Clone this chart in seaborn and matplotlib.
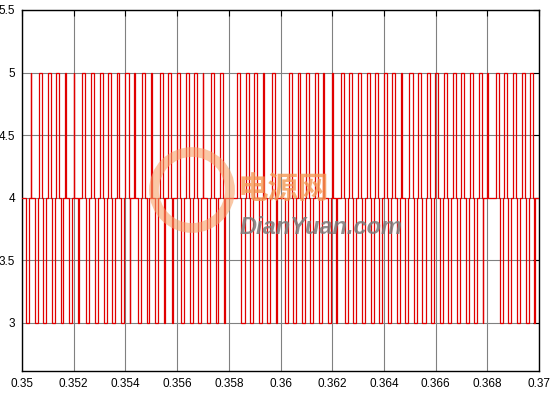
import numpy as np
import pandas as pd
import matplotlib
matplotlib.use("Agg")
import matplotlib.pyplot as plt
import seaborn as sns
from matplotlib.patches import Ellipse

# rising edges of the 4 -> 5 pulses (s) and their widths (us)
up_on = [0.35033, 0.35066, 0.35100, 0.35133, 0.35166, 0.35200, 0.35233, 0.35266,
         0.35300, 0.35333, 0.35366, 0.35400, 0.35433, 0.35466, 0.35499, 0.35533,
         0.35566, 0.35599, 0.35633, 0.35666, 0.35699, 0.35733, 0.35766, 0.35833,
         0.35866, 0.35899, 0.35933, 0.35966, 0.36033, 0.36066, 0.36099, 0.36133,
         0.36166, 0.36199, 0.36233, 0.36266, 0.36299, 0.36333, 0.36366, 0.36399,
         0.36433, 0.36466, 0.36499, 0.36533, 0.36566, 0.36599, 0.36633, 0.36666,
         0.36699, 0.36733, 0.36766, 0.36799, 0.36833, 0.36866, 0.36899, 0.36933,
         0.36966]
up_width = [25, 110, 120, 110, 30, 25, 115, 125, 120, 115, 110, 120, 30, 110, 30,
            120, 110, 120, 115, 120, 30, 110, 120, 120, 110, 120, 30, 120, 120, 110,
            120, 115, 30, 30, 120, 110, 115, 120, 110, 120, 115, 30, 120, 110, 120,
            115, 110, 120, 115, 110, 120, 25, 120, 110, 120, 115, 110]

# falling edges of the 4 -> 3 pulses (s) and their widths (us)
low_on = [0.35016, 0.35049, 0.35083, 0.35116, 0.35149, 0.35183, 0.35216, 0.35249,
          0.35283, 0.35316, 0.35349, 0.35383, 0.35416, 0.35449, 0.35482, 0.35516,
          0.35549, 0.35582, 0.35616, 0.35649, 0.35682, 0.35716, 0.35749, 0.35782,
          0.35849, 0.35882, 0.35916, 0.35949, 0.35982, 0.36016, 0.36049, 0.36082,
          0.36116, 0.36149, 0.36182, 0.36216, 0.36249, 0.36282, 0.36316, 0.36349,
          0.36382, 0.36416, 0.36449, 0.36482, 0.36516, 0.36549, 0.36582, 0.36616,
          0.36649, 0.36682, 0.36716, 0.36749, 0.36782, 0.36849, 0.36882, 0.36916,
          0.36949, 0.36982]
low_width = [110, 120, 115, 120, 110, 120, 30, 120, 110, 120, 115, 110, 30, 120,
             110, 120, 30, 30, 120, 110, 120, 115, 110, 30, 120, 110, 120, 115, 30,
             120, 110, 120, 115, 110, 120, 30, 110, 120, 115, 110, 120, 110, 120,
             115, 110, 120, 110, 120, 115, 110, 120, 110, 30, 120, 110, 120, 115, 30]

base_level = 4
t_start, t_end = 0.35, 0.37
x_ticks = [0.35, 0.352, 0.354, 0.356, 0.358, 0.36, 0.362, 0.364, 0.366, 0.368, 0.37]
x_labels = ["0.35", "0.352", "0.354", "0.356", "0.358", "0.36", "0.362", "0.364",
            "0.366", "0.368", "0.37"]
y_ticks = [3, 3.5, 4, 4.5, 5, 5.5]
y_labels = ["3", "3.5", "4", "4.5", "5", "5.5"]


def build_signal():
    events = [(t_start, base_level)]
    for t, w in zip(up_on, up_width):
        events.append((t, 5))
        events.append((t + w * 1e-6, base_level))
    for t, w in zip(low_on, low_width):
        events.append((t, 3))
        events.append((t + w * 1e-6, base_level))
    events.append((t_end, base_level))
    events.sort()
    return pd.DataFrame(events, columns=["t", "v"])


def main():
    sns.set_style("white")
    plt.rcParams["font.family"] = ["Liberation Sans", "DejaVu Sans"]

    df = build_signal()
    fig = plt.figure(figsize=(5.53, 3.94), dpi=100)
    ax = fig.add_axes([22 / 553, 1 - 371 / 394, 517 / 553, 361 / 394])

    sns.lineplot(data=df, x="t", y="v", drawstyle="steps-post", color="#e00000",
                 linewidth=0.9, estimator=None, sort=False, ax=ax, zorder=3)

    # watermark (site logo)
    fig.patches.append(Ellipse((192 / 553, 1 - 190 / 394), 76 / 553, 76 / 394,
                               transform=fig.transFigure, fill=False, ec="#f7a26a",
                               lw=7, alpha=0.6, zorder=5))
    fig.text(238 / 553, 1 - 198 / 394, "电源网", color="#f49a55", alpha=0.8,
             fontsize=22, fontweight="bold",
             family=["Noto Sans CJK SC", "DejaVu Sans"], zorder=6)
    fig.text(240 / 553, 1 - 234 / 394, "DianYuan.com", color="#7a7a7a", alpha=0.85,
             fontsize=17, fontweight="bold", fontstyle="italic", zorder=6)

    ax.set_xlim(t_start, t_end)
    ax.set_ylim(2.615, 5.5)
    ax.set_xticks(x_ticks)
    ax.set_xticklabels(x_labels)
    ax.set_yticks(y_ticks)
    ax.set_yticklabels(y_labels)
    ax.set_xlabel("")
    ax.set_ylabel("")
    ax.grid(True, color="#808080", linewidth=0.8)
    ax.set_axisbelow(True)
    ax.tick_params(direction="in", length=4, width=0.8, labelsize=8.5, colors="black",
                   top=True, right=True, pad=5)
    for s in ax.spines.values():
        s.set_color("black")
        s.set_linewidth(1.0)

    fig.savefig("out.png", dpi=100)


if __name__ == "__main__":
    main()
